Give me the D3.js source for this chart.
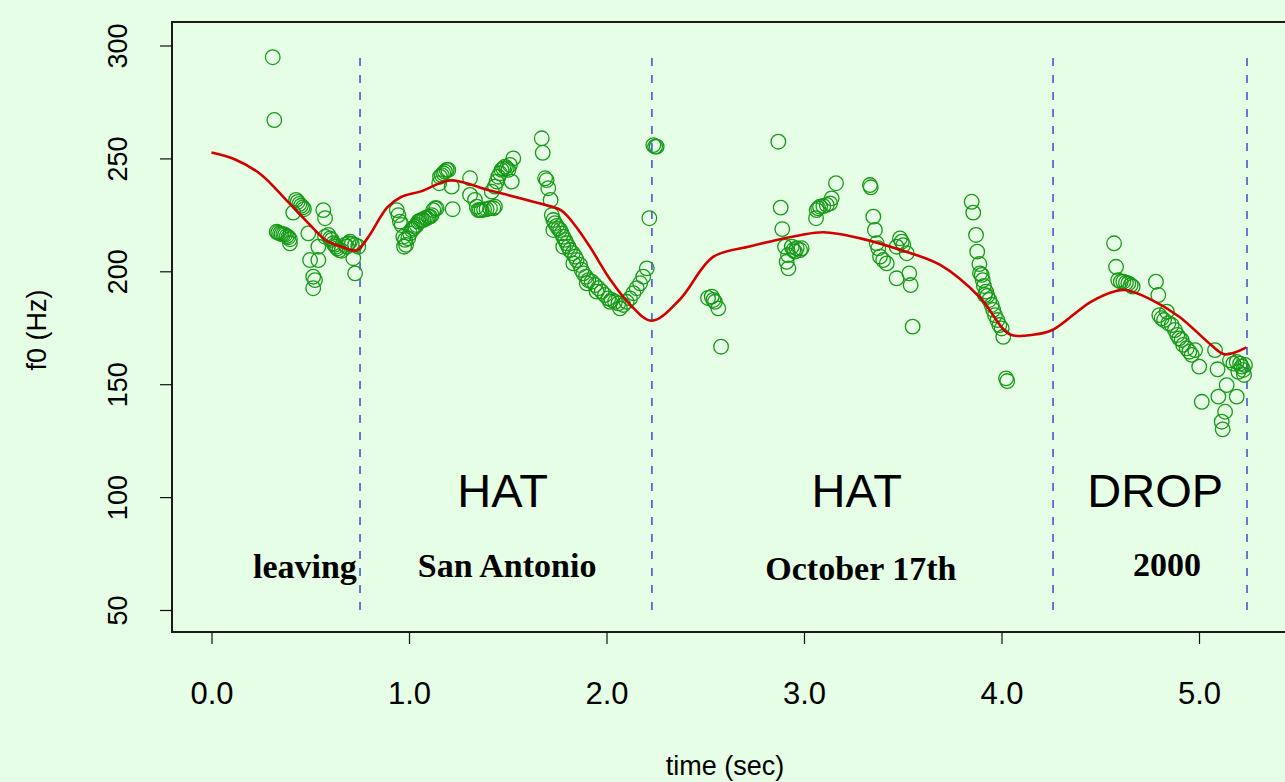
<!DOCTYPE html>
<html>
<head>
<meta charset="utf-8">
<script src="https://cdn.jsdelivr.net/npm/d3@7"></script>
<style>
  html, body { margin: 0; padding: 0; background: #e6fde6; }
  svg { display: block; }
</style>
</head>
<body>
<svg id="chart" width="1285" height="782"></svg>
<script>
// Pitch track (f0) with smoothed contour and word boundaries

// Measured f0 samples: time (sec) and frequency (Hz)
const sampleTime = [
  0.310, 0.318, 0.428, 0.436, 0.445, 0.453, 0.462, 0.468, 0.414, 0.330, 0.338, 0.347, 0.355, 0.364,
  0.372, 0.381, 0.389, 0.397, 0.397, 0.566, 0.575, 0.490, 0.541, 0.499, 0.541, 0.515, 0.524, 0.515,
  0.575, 0.591, 0.600, 0.609, 0.617, 0.625, 0.630, 0.637, 0.647, 0.659, 0.676, 0.685, 0.693, 0.701,
  0.710, 0.727, 0.743, 0.718, 0.727,
  0.938, 0.946, 0.954, 0.963, 0.971, 0.980, 0.985, 0.975, 0.996, 1.005, 1.014, 1.022, 1.030, 1.039,
  1.047, 1.056, 1.064, 1.072, 1.081, 1.090, 1.098, 1.106, 1.115, 1.123, 1.132, 1.140, 1.221, 1.157,
  1.166, 1.174, 1.182, 1.191, 1.199, 1.153, 1.216, 1.309, 1.309, 1.334, 1.343, 1.351, 1.359, 1.368,
  1.380, 1.393, 1.410, 1.427, 1.435, 1.419, 1.435, 1.444, 1.452, 1.461, 1.469, 1.477, 1.486, 1.495,
  1.503, 1.511, 1.528, 1.520,
  1.672, 1.677, 1.689, 1.697, 1.705, 1.717, 1.723, 1.731, 1.739, 1.748, 1.756, 1.765, 1.773, 1.781,
  1.790, 1.798, 1.807, 1.815, 1.829, 1.841, 1.849, 1.866, 1.874, 1.883, 1.896, 1.908, 1.925, 1.942,
  1.958, 1.976, 1.992, 2.009, 2.026, 2.043, 2.060, 2.085, 2.102, 2.119, 2.136, 2.153, 2.170, 2.186,
  2.204, 2.217, 2.237, 2.246, 2.254, 1.731, 1.781, 1.832, 1.900, 1.950, 2.018, 2.068,
  2.533, 2.541, 2.549, 2.566, 2.514, 2.580,
  2.870, 2.882, 2.890, 2.904, 2.912, 2.921, 2.938, 2.946, 2.954, 2.963, 2.980, 2.988, 2.919,
  3.061, 3.064, 3.072, 3.081, 3.098, 3.115, 3.132, 3.140, 3.162,
  3.334, 3.338, 3.351, 3.359, 3.368, 3.376, 3.385, 3.401, 3.419, 3.486, 3.495, 3.503, 3.520, 3.469,
  3.469, 3.533, 3.540, 3.550,
  3.849, 3.857, 3.871, 3.877, 3.888, 3.900, 3.905, 3.911, 3.922, 3.928, 3.938, 3.950, 3.958, 3.967,
  3.979, 3.989, 4.001, 4.009, 4.023, 4.029, 3.891, 3.916,
  4.570, 4.580, 4.591, 4.604, 4.617, 4.630, 4.642, 4.654, 4.664,
  4.782, 4.794, 4.799, 4.811, 4.823, 4.837, 4.845, 4.862, 4.878, 4.890, 4.900, 4.912, 4.920, 4.938,
  4.951, 4.963, 4.980, 5.001, 5.081, 5.094, 5.014, 5.098, 5.140, 5.191, 5.132, 5.115, 5.120,
  5.157, 5.174, 5.191, 5.208, 5.216, 5.224, 5.233, 5.228, 5.199
];
const sampleF0 = [
  294.8, 267.0, 231.6, 230.7, 229.8, 229.0, 228.3, 227.5, 226.0, 217.5, 217.1, 216.8, 216.5, 216.4,
  216.1, 215.6, 215.1, 214.2, 212.4, 227.1, 223.5, 216.8, 210.9, 205.0, 205.0, 197.6, 196.1, 192.5,
  215.3, 216.1, 214.6, 213.9, 212.4, 211.7, 210.9, 210.2, 209.4, 209.1, 211.7, 210.9, 212.4, 213.1,
  212.1, 211.7, 210.9, 205.8, 199.1,
  227.1, 224.9, 222.0, 220.5, 215.3, 213.9, 211.7, 210.9, 214.6, 216.8, 218.3, 219.0, 219.8, 220.5,
  222.0, 222.4, 222.7, 222.7, 223.5, 223.5, 224.2, 224.2, 224.9, 227.1, 227.9, 227.9, 227.5, 241.9,
  242.6, 243.4, 244.1, 244.9, 244.9, 239.0, 237.5, 241.2, 233.8, 231.6, 228.6, 227.1, 227.1, 227.1,
  227.4, 227.5, 227.9, 227.9, 228.6, 235.3, 237.5, 239.7, 241.9, 243.4, 244.9, 245.6, 246.3, 245.6,
  244.9, 247.1, 250.0, 239.7,
  258.9, 252.5, 241.2, 240.4, 236.8, 231.6, 224.9, 222.7, 221.3, 220.1, 219.0, 218.3, 216.8, 215.3,
  213.9, 212.4, 210.9, 209.4, 208.0, 206.5, 205.0, 202.8, 200.6, 199.1, 197.6, 196.1, 195.4, 193.9,
  192.5, 191.0, 189.5, 188.0, 187.3, 186.5, 185.8, 185.1, 186.5, 188.0, 190.3, 192.5, 194.7, 197.6,
  201.3, 223.5, 255.9, 255.2, 255.2, 218.3, 210.9, 203.5, 194.7, 191.0, 186.5, 183.6,
  188.8, 187.3, 186.5, 183.6, 188.2, 166.6,
  257.4, 228.2, 218.7, 210.9, 204.2, 201.3, 210.9, 209.4, 208.7, 210.2, 209.4, 210.2, 207.2,
  223.5, 227.1, 227.9, 228.6, 228.9, 229.4, 230.1, 232.3, 239.0,
  238.2, 237.2, 224.2, 218.3, 212.4, 210.2, 206.5, 205.0, 203.5, 214.6, 213.1, 211.6, 208.0, 210.9,
  196.9, 199.1, 193.9, 175.5,
  230.8, 226.0, 216.1, 208.7, 203.2, 198.4, 196.1, 193.5, 191.0, 189.1, 187.3, 185.1, 182.9, 180.6,
  178.4, 176.2, 174.7, 171.0, 152.6, 151.4, 199.1, 189.5,
  212.4, 202.0, 196.1, 195.4, 195.4, 194.9, 194.6, 193.9, 193.2,
  195.4, 189.5, 180.6, 179.2, 178.4, 182.1, 177.0, 176.2, 174.0, 171.8, 170.3, 169.6, 167.4, 165.9,
  164.4, 163.0, 165.1, 157.8, 165.1, 156.6, 142.2, 144.5, 149.6, 144.5, 137.8, 133.4, 130.0,
  160.6, 159.1, 159.9, 159.1, 157.8, 156.3, 158.5, 154.1, 155.5
];

// Smoothed contour
const smoothTime = [0.00, 0.12, 0.25, 0.38, 0.50, 0.58, 0.66, 0.735, 0.79, 0.89, 0.96, 1.06, 1.21,
  1.41, 1.66, 1.77, 1.84, 1.92, 2.02, 2.12, 2.23, 2.37, 2.54, 2.73, 2.98, 3.10, 3.28, 3.49, 3.69,
  3.89, 4.04, 4.16, 4.26, 4.45, 4.58, 4.63, 4.75, 4.90, 5.06, 5.13, 5.24];
const smoothF0 = [252.6, 249.5, 242.9, 231.4, 220.4, 213.7, 210.8, 209.3, 214.7, 228.3, 232.9, 235.4,
  240.2, 235.8, 230.1, 227.0, 220.4, 210.3, 196.2, 185.2, 178.1, 187.4, 206.4, 211.1, 216.0, 217.3,
  214.7, 209.4, 202.8, 188.5, 172.2, 171.9, 174.1, 186.4, 191.3, 191.7, 187.8, 179.9, 167.5, 163.2,
  166.3];

// Word boundaries (sec)
const boundaries = [0.752, 2.230, 4.261, 5.243];

// Tone labels and word labels
const toneLabels = ["HAT", "HAT", "DROP"];
const toneTimes = [1.474, 3.267, 4.778];
const wordLabels = ["leaving", "San Antonio", "October 17th", "2000"];
const wordTimes = [0.473, 1.497, 3.288, 4.838];
const wordF0 = [64.2, 64.6, 63.4, 65.2];

const xTicks = [0, 1, 2, 3, 4, 5];
const yTicks = [50, 100, 150, 200, 250, 300];

const svg = d3.select("#chart");

const plotLeft = 172, plotTop = 22, plotBottom = 632, plotRight = 1300;

const x = d3.scaleLinear().domain([0, 5]).range([211.5, 1199]);
const y = d3.scaleLinear().domain([50, 300]).range([610, 45.5]);

// background
svg.append("rect").attr("x", 0).attr("y", 0).attr("width", 1285).attr("height", 782)
  .attr("fill", "#e6fde6");

// plot frame
svg.append("rect")
  .attr("x", plotLeft).attr("y", plotTop)
  .attr("width", plotRight - plotLeft).attr("height", plotBottom - plotTop)
  .attr("fill", "none").attr("stroke", "#1a1a1a").attr("stroke-width", 2);

// x axis
const xAxis = d3.axisBottom(x).tickValues(xTicks).tickSize(12).tickSizeOuter(0)
  .tickFormat(d3.format(".1f"));
const gx = svg.append("g").attr("transform", `translate(0,${plotBottom})`).call(xAxis);
gx.select(".domain").remove();
gx.selectAll(".tick line").attr("stroke", "#111").attr("stroke-width", 1.2);
gx.selectAll(".tick text")
  .attr("y", 0).attr("dy", null)
  .attr("transform", "translate(0,72)")
  .attr("font-family", "Liberation Sans, Arial, sans-serif")
  .attr("font-size", 31).attr("fill", "#000");

// y axis
const yAxis = d3.axisLeft(y).tickValues(yTicks).tickSize(12).tickSizeOuter(0)
  .tickFormat(d3.format("d"));
const gy = svg.append("g").attr("transform", `translate(${plotLeft},0)`).call(yAxis);
gy.select(".domain").remove();
gy.selectAll(".tick line").attr("stroke", "#111").attr("stroke-width", 1.2);
gy.selectAll(".tick text")
  .attr("x", 0).attr("dy", null)
  .attr("transform", "translate(-45,0) rotate(-90)")
  .attr("text-anchor", "middle")
  .attr("font-family", "Liberation Sans, Arial, sans-serif")
  .attr("font-size", 27).attr("fill", "#000");

// axis titles
svg.append("text")
  .attr("x", 725).attr("y", 775)
  .attr("text-anchor", "middle")
  .attr("font-family", "Liberation Sans, Arial, sans-serif")
  .attr("font-size", 27).attr("fill", "#000")
  .text("time (sec)");
svg.append("text")
  .attr("transform", "translate(46,330) rotate(-90)")
  .attr("text-anchor", "middle")
  .attr("font-family", "Liberation Sans, Arial, sans-serif")
  .attr("font-size", 27).attr("fill", "#000")
  .text("f0 (Hz)");

// word boundaries
svg.append("g").selectAll("line").data(boundaries).join("line")
  .attr("x1", d => x(d)).attr("x2", d => x(d))
  .attr("y1", y(50)).attr("y2", y(297))
  .attr("stroke", "#2f40cc").attr("stroke-width", 1.4)
  .attr("stroke-dasharray", "8,9");

// f0 samples
const samples = sampleTime.map((t, i) => ({ t, f: sampleF0[i] }));
svg.append("g").selectAll("circle").data(samples).join("circle")
  .attr("cx", d => x(d.t)).attr("cy", d => y(d.f))
  .attr("r", 7.3)
  .attr("fill", "none").attr("stroke", "#179a17").attr("stroke-width", 1.3);

// smoothed contour
const smooth = smoothTime.map((t, i) => ({ t, f: smoothF0[i] }));
svg.append("path").datum(smooth)
  .attr("d", d3.line().x(d => x(d.t)).y(d => y(d.f)).curve(d3.curveCatmullRom.alpha(0.5)))
  .attr("fill", "none").attr("stroke", "#d40000").attr("stroke-width", 2.6);

// tone labels
svg.append("g").selectAll("text").data(toneLabels).join("text")
  .attr("x", (d, i) => x(toneTimes[i])).attr("y", 507)
  .attr("text-anchor", "middle")
  .attr("font-family", "Liberation Sans, Arial, sans-serif")
  .attr("font-size", 47).attr("fill", "#000")
  .text(d => d);

// word labels
svg.append("g").selectAll("text").data(wordLabels).join("text")
  .attr("x", (d, i) => x(wordTimes[i])).attr("y", (d, i) => y(wordF0[i]))
  .attr("text-anchor", "middle")
  .attr("font-family", "Liberation Serif, Times New Roman, serif")
  .attr("font-weight", "bold")
  .attr("font-size", 34).attr("fill", "#000")
  .text(d => d);
</script>
</body>
</html>
